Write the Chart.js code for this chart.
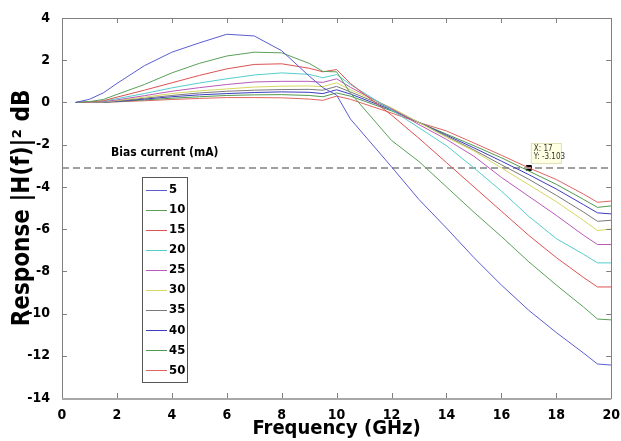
<!DOCTYPE html>
<html>
<head>
<meta charset="utf-8">
<script src="https://cdn.jsdelivr.net/npm/chart.js@4/dist/chart.umd.min.js"></script>
<style>
  html, body { margin: 0; padding: 0; background: #fff; }
  #wrap { width: 621px; height: 441px; }
</style>
</head>
<body>
<div id="wrap"><canvas id="myChart" width="621" height="441"></canvas></div>
<script>
// frequency points (GHz)
var freqs = [0.5, 1, 1.5, 2, 3, 4, 5, 6, 7, 8, 9, 9.5, 10, 10.5, 12, 13, 14, 15, 16, 17, 18, 19, 19.5, 20];

// response in dB per bias current
var bias5  = [0, 0.15, 0.45, 0.9, 1.74, 2.38, 2.82, 3.23, 3.15, 2.45, 1.25, 0.7, 0.35, -0.78, -3.05, -4.6, -5.95, -7.35, -8.65, -9.85, -10.9, -11.88, -12.39, -12.44];
var bias10 = [0, 0.04, 0.14, 0.38, 0.85, 1.4, 1.85, 2.2, 2.38, 2.35, 1.85, 1.47, 1.45, 0.45, -1.8, -2.8, -4.0, -5.2, -6.35, -7.55, -8.65, -9.7, -10.26, -10.3];
var bias15 = [0, 0.02, 0.08, 0.25, 0.58, 0.93, 1.28, 1.59, 1.8, 1.83, 1.62, 1.45, 1.56, 0.9, -0.6, -1.7, -2.85, -4.0, -5.15, -6.3, -7.35, -8.3, -8.74, -8.74];
var bias20 = [0, 0.02, 0.06, 0.18, 0.42, 0.69, 0.92, 1.12, 1.3, 1.4, 1.33, 1.17, 1.32, 0.85, -0.35, -1.2, -2.05, -3.1, -4.2, -5.4, -6.45, -7.2, -7.6, -7.6];
var bias25 = [0, 0.01, 0.04, 0.12, 0.32, 0.53, 0.7, 0.85, 0.97, 1.0, 1.0, 0.95, 1.12, 0.72, -0.3, -1.05, -1.75, -2.55, -3.55, -4.45, -5.35, -6.3, -6.73, -6.73];
var bias30 = [0, 0.01, 0.03, 0.09, 0.25, 0.42, 0.55, 0.64, 0.73, 0.77, 0.78, 0.75, 0.93, 0.6, -0.25, -0.95, -1.65, -2.3, -3.1, -3.9, -4.7, -5.6, -6.07, -5.99];
var bias35 = [0, 0.01, 0.02, 0.07, 0.2, 0.33, 0.45, 0.53, 0.58, 0.61, 0.62, 0.58, 0.76, 0.5, -0.3, -0.95, -1.6, -2.25, -2.95, -3.64, -4.4, -5.2, -5.63, -5.58];
var bias40 = [0, 0, 0.02, 0.05, 0.16, 0.27, 0.36, 0.42, 0.47, 0.5, 0.48, 0.42, 0.6, 0.4, -0.35, -0.95, -1.55, -2.15, -2.78, -3.42, -4.1, -4.85, -5.23, -5.28];
var bias45 = [0, 0, 0.01, 0.04, 0.12, 0.2, 0.27, 0.33, 0.36, 0.37, 0.33, 0.27, 0.45, 0.3, -0.4, -0.95, -1.5, -2.05, -2.62, -3.25, -3.88, -4.6, -4.97, -4.9];
var bias50 = [0, 0, 0.01, 0.03, 0.08, 0.14, 0.19, 0.23, 0.23, 0.22, 0.16, 0.1, 0.3, 0.15, -0.5, -0.95, -1.35, -1.92, -2.5, -3.1, -3.65, -4.35, -4.73, -4.67];

var biasLabels = ['5', '10', '15', '20', '25', '30', '35', '40', '45', '50'];
var biasSeries = [bias5, bias10, bias15, bias20, bias25, bias30, bias35, bias40, bias45, bias50];
var biasColors = ['#5c5cd0', '#5aa05a', '#dd5252', '#55cccc', '#b85ab8', '#d6d662', '#7a7a7a', '#3c3cc0', '#4f9a4f', '#e06464'];

var cutoffLevel = -3.103;   // dashed -3 dB line
var cursorX = [17];
var cursorY = [-3.103];

var xTicks = [0, 2, 4, 6, 8, 10, 12, 14, 16, 18, 20];
var yTicks = [4, 2, 0, -2, -4, -6, -8, -10, -12, -14];

var narrow = "'DejaVu Sans Condensed', 'Liberation Sans', sans-serif";

var datasets = biasSeries.map(function (vals, i) {
  return {
    label: biasLabels[i],
    data: freqs.map(function (f, j) { return { x: f, y: vals[j] }; }),
    borderColor: biasColors[i],
    borderWidth: 1,
    pointRadius: 0,
    fill: false,
    tension: 0
  };
});
datasets.push({
  label: 'cutoff',
  data: [{ x: 0, y: cutoffLevel }, { x: 20, y: cutoffLevel }],
  borderColor: '#a0a0a0',
  borderWidth: 2,
  borderDash: [7, 4],
  pointRadius: 0
});
datasets.push({
  label: 'cursor',
  data: cursorX.map(function (x, i) { return { x: x, y: cursorY[i] }; }),
  showLine: false,
  pointStyle: 'rect',
  pointRadius: 3.5,
  backgroundColor: '#000',
  borderColor: '#000'
});

// inner ticks + frame, legend box, annotations
var extras = {
  id: 'extras',
  afterDraw: function (chart) {
    var ctx = chart.ctx;
    var a = chart.chartArea;
    var xs = chart.scales.x, ys = chart.scales.y;
    ctx.save();
    ctx.strokeStyle = '#808080';
    ctx.lineWidth = 1;
    ctx.beginPath();
    xTicks.forEach(function (v) {
      var px = Math.round(xs.getPixelForValue(v)) + 0.5;
      ctx.moveTo(px, a.bottom); ctx.lineTo(px, a.bottom - 5);
      ctx.moveTo(px, a.top); ctx.lineTo(px, a.top + 5);
    });
    yTicks.forEach(function (v) {
      var py = Math.round(ys.getPixelForValue(v)) + 0.5;
      ctx.moveTo(a.left, py); ctx.lineTo(a.left + 5, py);
      ctx.moveTo(a.right, py); ctx.lineTo(a.right - 5, py);
    });
    ctx.stroke();
    ctx.strokeRect(Math.round(a.left) + 0.5, Math.round(a.top) + 0.5, Math.round(a.right - a.left), Math.round(a.bottom - a.top));
    ctx.strokeStyle = '#a8a8a8';
    ctx.lineWidth = 2;
    ctx.beginPath();
    ctx.moveTo(a.left, a.bottom + 1); ctx.lineTo(a.right, a.bottom + 1);
    ctx.stroke();

    // legend title
    ctx.fillStyle = '#000';
    ctx.font = 'bold 12px ' + narrow;
    ctx.textBaseline = 'middle';
    ctx.textAlign = 'left';
    ctx.fillText('Bias current (mA)', 111, 153);

    // legend box
    var lx = 142, ly = 177, lw = 45, lh = 205;
    ctx.fillStyle = '#fff';
    ctx.fillRect(lx, ly, lw, lh);
    ctx.strokeStyle = '#555';
    ctx.lineWidth = 1;
    ctx.strokeRect(lx + 0.5, ly + 0.5, lw, lh);
    ctx.font = 'bold 13px ' + narrow;
    biasLabels.forEach(function (lab, i) {
      var yy = ly + 12.5 + i * 20.1;
      ctx.strokeStyle = biasColors[i];
      ctx.beginPath();
      ctx.moveTo(lx + 4, Math.round(yy) + 0.5); ctx.lineTo(lx + 25, Math.round(yy) + 0.5);
      ctx.stroke();
      ctx.fillStyle = '#000';
      ctx.fillText(lab, lx + 27, yy);
    });

    // data tip
    var cx = xs.getPixelForValue(cursorX[0]), cy = ys.getPixelForValue(cursorY[0]);
    ctx.fillStyle = '#ffffe1';
    ctx.fillRect(cx + 2, cy - 25, 30, 20);
    ctx.strokeStyle = '#e0e0b8';
    ctx.strokeRect(cx + 2.5, cy - 24.5, 30, 20);
    ctx.fillStyle = '#333';
    ctx.font = '8px ' + narrow;
    ctx.fillText('X: ' + cursorX[0], cx + 5, cy - 19);
    ctx.fillText('Y: ' + cursorY[0], cx + 5, cy - 11);
    ctx.restore();
  }
};

var ctx = document.getElementById('myChart');
var myChart = new Chart(ctx, {
  type: 'line',
  data: { datasets: datasets },
  options: {
    responsive: false,
    animation: false,
    layout: { padding: { top: 18, right: 7, left: 0, bottom: 0 } },
    plugins: {
      legend: { display: false },
      tooltip: { enabled: false }
    },
    scales: {
      x: {
        type: 'linear',
        min: 0, max: 20,
        afterFit: function (s) { s.height = 43; },
        afterBuildTicks: function (s) { s.ticks = xTicks.map(function (v) { return { value: v }; }); },
        grid: { display: false },
        border: { display: false },
        ticks: { color: '#000', padding: 1, maxRotation: 0, font: { family: narrow, size: 14, weight: 'bold' } },
        title: {
          display: true,
          text: 'Frequency (GHz)',
          color: '#000',
          padding: { top: -2, bottom: 0 },
          font: { family: narrow, size: 20, weight: 'bold' }
        }
      },
      y: {
        min: -14, max: 4,
        afterFit: function (s) { s.width = 62; },
        afterBuildTicks: function (s) { s.ticks = yTicks.map(function (v) { return { value: v }; }); },
        grid: { display: false },
        border: { display: false },
        ticks: { color: '#000', padding: 4, font: { family: narrow, size: 14, weight: 'bold' } },
        title: {
          display: true,
          text: 'Response |H(f)|\u00b2 dB',
          color: '#000',
          padding: { top: 8, bottom: 0 },
          font: { family: narrow, size: 24, weight: 'bold' }
        }
      }
    }
  },
  plugins: [extras]
});
</script>
</body>
</html>
